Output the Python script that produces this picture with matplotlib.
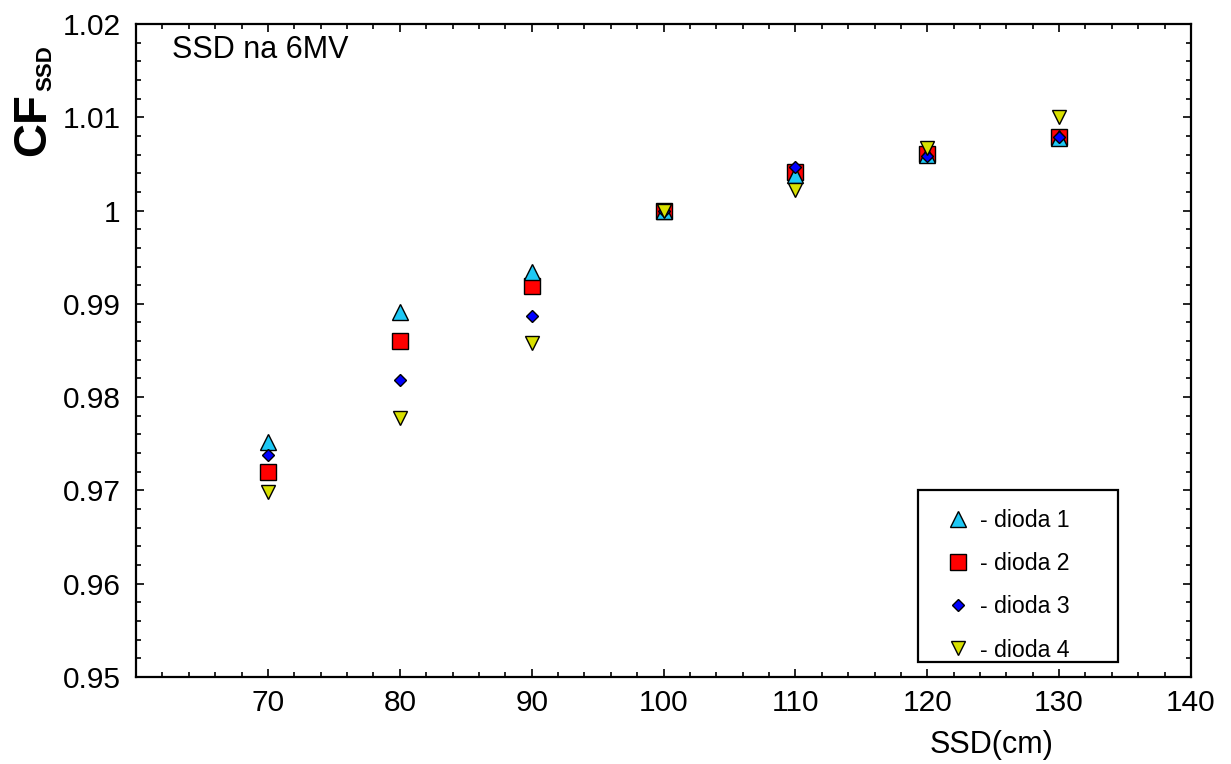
import numpy as np
import matplotlib
matplotlib.use("Agg")
import matplotlib.pyplot as plt
from matplotlib.patches import Rectangle
from matplotlib.ticker import MultipleLocator, FormatStrFormatter

plt.rcParams['font.family'] = ['Liberation Sans', 'DejaVu Sans']

ssd = [70, 80, 90, 100, 110, 120, 130]
dioda1 = [0.9752, 0.9891, 0.9934, 1.0000, 1.0038, 1.0060, 1.0078]
dioda2 = [0.9720, 0.9860, 0.9919, 1.0000, 1.0041, 1.0061, 1.0079]
dioda3 = [0.9738, 0.9818, 0.9887, 1.0000, 1.0047, 1.0059, 1.0079]
dioda4 = [0.9698, 0.9778, 0.9858, 1.0000, 1.0022, 1.0067, 1.0100]

W, H = 1231, 764
fig = plt.figure(figsize=(W / 100, H / 100), dpi=100)
ax = fig.add_axes([0.1105, 0.1139, 0.857, 0.8547])

ax.plot(ssd, dioda1, ls='none', marker='^', ms=12.2, mfc='#1ec8f5', mec='black', mew=1, zorder=4, label='- dioda 1')
ax.plot(ssd, dioda2, ls='none', marker='s', ms=11.5, mfc='#ff0000', mec='black', mew=1, zorder=3, label='- dioda 2')
ax.plot(ssd, dioda3, ls='none', marker='D', ms=6.6, mfc='#0000ff', mec='black', mew=1, zorder=5, label='- dioda 3')
ax.plot(ssd, dioda4, ls='none', marker='v', ms=9.4, mfc='#d8e000', mec='black', mew=1, zorder=6, label='- dioda 4')

ax.set_xlim(60, 140)
ax.set_ylim(0.95, 1.02)
ax.set_xticks(np.arange(70, 141, 10))
ax.xaxis.set_minor_locator(MultipleLocator(2))
ax.set_yticks(np.arange(0.95, 1.0201, 0.01))
ax.yaxis.set_minor_locator(MultipleLocator(0.002))
ax.yaxis.set_major_formatter(FormatStrFormatter('%g'))

ax.tick_params(which='both', direction='in', top=True, right=True, labelsize=21.5, width=1.2)
ax.tick_params(which='major', length=6)
ax.tick_params(which='minor', length=3.5)
ax.tick_params(axis='y', pad=11)
ax.tick_params(axis='x', pad=9)
for s in ax.spines.values():
    s.set_linewidth(1.6)

ax.text(172 / W, 1 - 50 / H, 'SSD na 6MV', transform=fig.transFigure, fontsize=22, va='center', ha='left')
fig.text(992 / W, 1 - 745 / H, 'SSD(cm)', fontsize=22, ha='center', va='center')
fig.text(33 / W, 1 - 125 / H, 'CF', fontsize=34, fontweight='bold', rotation=90, ha='center', va='center')
fig.text(46 / W, 1 - 68 / H, 'SSD', fontsize=16, fontweight='bold', rotation=90, ha='center', va='center')

# legend frame drawn separately (box is wider than its content)
fig.patches.append(Rectangle((918 / W, 1 - 662 / H), 200 / W, 172 / H, transform=fig.transFigure,
                             fill=False, edgecolor='black', linewidth=1.6))
leg = ax.legend(loc='upper left', bbox_to_anchor=(946 / W, 1 - 509 / H), bbox_transform=fig.transFigure,
                fontsize=16.7, frameon=False, numpoints=1, borderpad=0,
                labelspacing=0.87, handlelength=1.0, handletextpad=0.47, borderaxespad=0)

fig.savefig('out.png', dpi=100)
